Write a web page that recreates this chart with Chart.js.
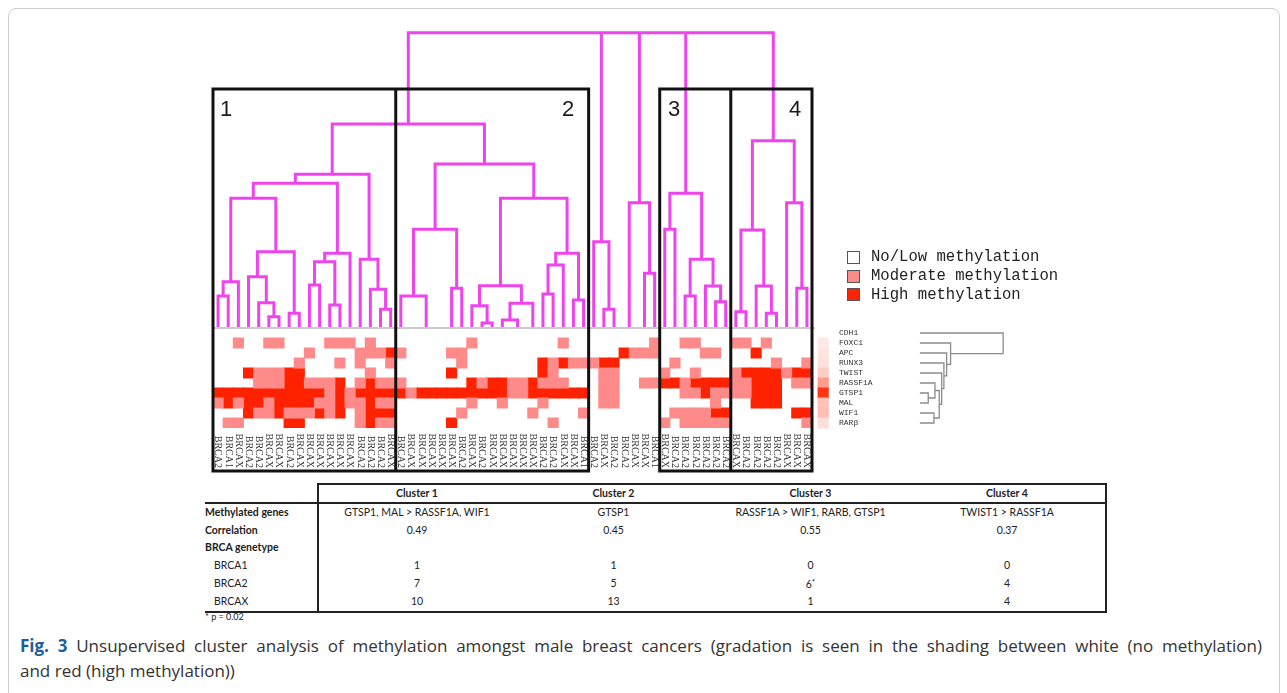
<!DOCTYPE html>
<html>
<head>
<meta charset="utf-8">
<title>Fig. 3</title>
<script src="https://cdn.jsdelivr.net/npm/chart.js@4.4.1/dist/chart.umd.min.js"></script>
<style>
  html, body { margin: 0; padding: 0; background: #fff; }
  body { width: 1287px; height: 693px; position: relative; overflow: hidden; font-family: 'Open Sans', sans-serif; }
  #frame { position: absolute; left: 8px; top: 8px; width: 1270px; height: 720px; border: 1px solid #cfcfcf; border-radius: 8px; }
  #chart { position: absolute; left: 0; top: 0; }
  .num { position: absolute; top: 98px; font: 22px 'Liberation Sans', Arial, sans-serif; line-height: 22px; color: #1a1a1a; }
  #legend { position: absolute; left: 847px; top: 248px; font: 15.6px 'Liberation Mono', monospace; color: #222; }
  #legend div { height: 18.8px; display: flex; align-items: center; white-space: nowrap; }
  #legend .sw { width: 11px; height: 11px; border: 1px solid #555; margin-right: 11px; flex: none; }
  #tbl { position: absolute; left: 205px; top: 483px; border-collapse: collapse; table-layout: fixed; width: 901px; font: 10.5px Lato, sans-serif; color: #222; }
  #tbl td, #tbl th { padding: 0; height: 17.5px; line-height: 17px; text-align: center; white-space: nowrap; }
  #tbl th { font-weight: bold; border-top: 2px solid #222; height: 16px; }
  #tbl th.lab { border-top: none; }
  #tbl thead tr { border-bottom: 2px solid #222; }
  #tbl tbody tr:last-child { border-bottom: 2px solid #222; }
  #tbl tr > :first-child { border-right: 2px solid #222; text-align: left; }
  #tbl tr > :last-child { border-right: 2px solid #222; }
  #tbl td.b { font-weight: bold; }
  #tbl td.sub { padding-left: 9px; }
  #tbl .star { font-size: 8px; vertical-align: 3px; }
  #note { position: absolute; left: 205px; top: 611px; font: 9px Lato, sans-serif; color: #222; }
  #cap { position: absolute; left: 20px; top: 633px; font-size: 17px; line-height: 25px; color: #333; white-space: nowrap; }
  #cap .l1 { width: 1242px; white-space: normal; text-align: justify; text-align-last: justify; }
  #cap b { color: #1d5f9c; }
</style>
</head>
<body>
<div id="frame"></div>
<canvas id="chart" width="1287" height="480"></canvas>
<div class="num" style="left:220px">1</div>
<div class="num" style="left:562px">2</div>
<div class="num" style="left:668px">3</div>
<div class="num" style="left:789px">4</div>
<div id="legend"></div>
<table id="tbl"></table>
<div id="note">* p = 0.02</div>
<div id="cap"><div class="l1"><b>Fig. 3</b> Unsupervised cluster analysis of methylation amongst male breast cancers (gradation is seen in the shading between white (no methylation)</div><div>and red (high methylation))</div></div>
<script>
// === Namunalar (ustunlar) ===
const colLabels = [
  'BRCA2','BRCA1','BRCAX','BRCA2','BRCA2','BRCAX','BRCAX','BRCA2','BRCAX','BRCAX','BRCAX','BRCAX','BRCAX','BRCAX','BRCA2','BRCA2','BRCA2','BRCAX',
  'BRCA2','BRCAX','BRCAX','BRCAX','BRCAX','BRCAX','BRCA2','BRCAX','BRCA2','BRCAX','BRCAX','BRCAX','BRCAX','BRCAX','BRCA2','BRCA2','BRCAX','BRCAX','BRCA1',
  'BRCA2','BRCAX','BRCA2','BRCA2','BRCAX','BRCAX','BRCA1',
  'BRCAX','BRCA2','BRCA2','BRCA2','BRCA2','BRCA2','BRCA2',
  'BRCAX','BRCA2','BRCA2','BRCA2','BRCA2','BRCAX','BRCAX','BRCAX'
];

// === Genlar (qatorlar) ===
const genes = ['CDH1', 'FOXC1', 'APC', 'RUNX3', 'TWIST', 'RASSF1A', 'GTSP1', 'MAL', 'WIF1', 'RARβ'];

// 0 = no/low, 1 = moderate, 2 = high  (cluster1 | cluster2 | loose | cluster3 | cluster4)
const cdh1    = '000000000000000000 0000000000000000000 0000000 0000000 00000000';
const foxc1   = '001001100001110100 0000000100000000100 0000001 0011000 11010000';
const apc     = '000000000100001112 1000011000000000000 0002111 0000110 00200000';
const runx3   = '000000001000101001 0000001000000021211 1220000 0100000 00001001';
const twist   = '000211122000000100 0000020000000021000 0110000 1001000 12222122';
const rassf1a = '000011122111201211 1000000212211211100 0110011 2212222 11222011';
const gtsp1   = '222222222221212222 2122222222211222222 0110000 0011211 11222000';
const mal     = '121221222211211211 0000000100100010000 0110000 0000010 00222000';
const wif1    = '000211211121201222 0000001000000100001 0000000 0111122 00000022';
const rarb    = '011000022000001211 0000020000000001000 0000000 1011111 00000001';

// o'rtacha metilatsiya (o'ng tomondagi ustun)
const geneMeans = [0.0, 0.1, 0.12, 0.14, 0.22, 0.45, 0.92, 0.28, 0.3, 0.15];

// === Dendrogramma: [chap, o'ng, balandlik] ===
const c1Left = [[[0, 1, 3.2], 2, 4.63], [[3, [4, [5, 6, 1.13], 2.53], 5.13], [7, 8, 1.47], 7.63], 12.97];
const c1Mid = [[[9, 10, 4.3], [11, 12, 2.3], 6.63], 13, 7.47];
const c1Right = [14, [15, [16, 17, 1.87], 3.87], 6.87];
const cluster1 = [[c1Left, c1Mid, 14.47], c1Right, 15.37];
const c2Left = [[18, [[19, 20, 0], [21, 22, 0], 0], 3.2], [23, 24, 3.97], 9.87];
const c2Right = [[[25, [26, 27, 0.5], 2.23], [[28, [29, 30, 0], 0.8], 31, 2.47], 4.23], [[[32, 33, 3.4], 34, 6.3], [35, 36, 2.8], 7.47], 12.97];
const cluster2 = [c2Left, c2Right, 16.4];
const loose1 = [37, [38, 39, 1.87], 8.63];
const loose2 = [[40, 41, 0], [42, 43, 5.47], 12.53];
const cluster3 = [[44, 45, 9.87], [[46, 47, 3.2], [48, [49, 50, 2.63], 4.2], 6.87], 13.47];
const cluster4 = [[[51, 52, 1.63], [53, [54, 55, 1.47], 4.2], 9.8], [56, [57, 58, 3.97], 12.53], 18.73];
const rootHeight = 29.53;
const topTree = [[[[[cluster1, cluster2, 20.4], loose1, rootHeight], loose2, rootHeight], cluster3, rootHeight], cluster4, rootHeight];

// genlar dendrogrammasi
const geneTree = [0, [1, [2, [3, [4, [[5, [6, 7, 0.82], 1.48], [8, 9, 1.38], 1.9], 2.14], 2.36], 2.63], 3.02], 8.2];

// klaster ramkalari (ustun oralig'i)
const clusterSpans = [[0, 18], [18, 37], [44, 51], [51, 59]];

// === Jadval ===
const clusterNames = ['Cluster 1', 'Cluster 2', 'Cluster 3', 'Cluster 4'];
const methylatedGenes = ['GTSP1, MAL > RASSF1A, WIF1', 'GTSP1', 'RASSF1A > WIF1, RARB, GTSP1', 'TWIST1 > RASSF1A'];
const correlations = [0.49, 0.45, 0.55, 0.37];
const brca1Counts = [1, 1, 0, 0];
const brca2Counts = [7, 5, 6, 4];
const brcaxCounts = [10, 13, 1, 4];
const brca2Significant = [false, false, true, false];

// === Legend ===
const levelNames = ['No/Low methylation', 'Moderate methylation', 'High methylation'];
const levelColors = ['#ffffff', '#ff8a8a', '#ff2200'];

const COLS = colLabels.length;
const Y_TOP = 29.6, Y_BOTTOM = -10;
const BOX_TOP = 23.9, BOX_BOTTOM = -14.3;
const STRIP_X = 60.1, GENE_BASE = 69.63;

const rows = [cdh1, foxc1, apc, runx3, twist, rassf1a, gtsp1, mal, wif1, rarb]
  .map(s => s.replace(/ /g, '').split('').map(Number));

function cells(level) {
  const out = [];
  rows.forEach((row, r) => row.forEach((v, c) => {
    if (v === level) out.push({ x: c + 0.5, y: [-(r + 1), -r] });
  }));
  return out;
}

// nol balandlikdagi birlashmalar chizilmaydi (asosiy chiziq ostida qoladi)
function addTopLinks(node, pts) {
  if (typeof node === 'number') return { x: node + 0.5, h: 0 };
  const a = addTopLinks(node[0], pts), b = addTopLinks(node[1], pts), h = node[2];
  if (h > 0) pts.push({ x: a.x, y: a.h }, { x: a.x, y: h }, { x: b.x, y: h }, { x: b.x, y: b.h }, { x: null, y: null });
  return { x: (a.x + b.x) / 2, h };
}

function addGeneLinks(node, pts) {
  if (typeof node === 'number') return { y: -(node + 0.5), h: 0 };
  const a = addGeneLinks(node[0], pts), b = addGeneLinks(node[1], pts), h = node[2];
  pts.push({ x: GENE_BASE + a.h, y: a.y }, { x: GENE_BASE + h, y: a.y }, { x: GENE_BASE + h, y: b.y }, { x: GENE_BASE + b.h, y: b.y }, { x: null, y: null });
  return { y: (a.y + b.y) / 2, h };
}

const dendroPts = [];
addTopLinks(topTree, dendroPts);
const genePts = [];
addGeneLinks(geneTree, genePts);

const boxPts = [];
clusterSpans.forEach(([s, e]) => {
  boxPts.push({ x: s, y: BOX_BOTTOM }, { x: s, y: BOX_TOP }, { x: e, y: BOX_TOP }, { x: e, y: BOX_BOTTOM }, { x: s, y: BOX_BOTTOM }, { x: null, y: null });
});

function meanColor(t) {
  const g = Math.round(255 - 221 * t), b = Math.round(255 - 255 * t);
  return `rgb(255,${g},${b})`;
}

Chart.defaults.animation = false;
Chart.defaults.font.family = "'Liberation Mono', monospace";

const barOpts = { type: 'bar', grouped: false, barPercentage: 1, categoryPercentage: 1, borderWidth: 0, inflateAmount: 0.5, order: 3 };

new Chart(document.getElementById('chart'), {
  type: 'bar',
  data: {
    datasets: [
      { type: 'line', data: boxPts, borderColor: '#111', borderWidth: 3, pointRadius: 0, clip: false,
        borderJoinStyle: 'miter', borderCapStyle: 'square', order: 0 },
      { type: 'line', data: [{ x: -0.1, y: 0 }, { x: COLS + 0.3, y: 0 }], borderColor: '#cacaca', borderWidth: 2, pointRadius: 0, clip: false, order: 1 },
      { type: 'line', data: dendroPts, borderColor: '#ee44ee', borderWidth: 3, pointRadius: 0, clip: false, order: 2 },
      { type: 'line', data: genePts, borderColor: '#8c8c8c', borderWidth: 1.3, pointRadius: 0, clip: false, order: 2 },
      { ...barOpts, label: levelNames[1], data: cells(1), backgroundColor: levelColors[1] },
      { ...barOpts, label: levelNames[2], data: cells(2), backgroundColor: levelColors[2] },
      { ...barOpts, label: 'mean', data: geneMeans.map((m, r) => ({ x: STRIP_X, y: [-(r + 1), -r] })),
        backgroundColor: geneMeans.map(meanColor), clip: false }
    ]
  },
  options: {
    responsive: false,
    devicePixelRatio: 1,
    events: [],
    layout: { padding: { left: 213, right: 275, top: 32, bottom: 7 } },
    plugins: { legend: { display: false }, tooltip: { enabled: false } },
    scales: {
      x: {
        type: 'linear', min: 0, max: COLS, offset: false,
        grid: { display: false, drawTicks: false }, border: { display: false },
        afterBuildTicks: a => { a.ticks = colLabels.map((_, i) => ({ value: i + 0.5 })); },
        afterFit: a => { a.height = 45; },
        ticks: { autoSkip: false, minRotation: -90, maxRotation: -90, padding: 40, color: '#333',
                 font: { family: "'Liberation Serif', serif", size: 10 }, callback: (v, i) => colLabels[i] }
      },
      y: { type: 'linear', min: Y_BOTTOM, max: Y_TOP, display: false },
      yg: {
        type: 'linear', position: 'right', min: Y_BOTTOM, max: Y_TOP,
        grid: { display: false, drawTicks: false }, border: { display: false },
        afterBuildTicks: a => { a.ticks = genes.map((_, i) => ({ value: -i - 0.5 })); },
        afterFit: a => { a.width = 200; },
        ticks: { autoSkip: false, padding: 27, color: '#333', font: { size: 8 }, callback: (v, i) => genes[i] }
      }
    }
  }
});

// === Legend ===
document.getElementById('legend').innerHTML = levelNames
  .map((n, i) => `<div><span class="sw" style="background:${levelColors[i]}"></span>${n}</div>`).join('');

// === Jadval ===
const row = (label, cls, vals) => `<tr><td class="${cls}">${label}</td>` + vals.map(v => `<td>${v}</td>`).join('') + '</tr>';
document.getElementById('tbl').innerHTML =
  '<colgroup><col style="width:113px">' + '<col style="width:197px">'.repeat(4) + '</colgroup>' +
  '<thead><tr><th class="lab"></th>' + clusterNames.map(n => `<th>${n}</th>`).join('') + '</tr></thead><tbody>' +
  row('Methylated genes', 'b', methylatedGenes) +
  row('Correlation', 'b', correlations.map(v => v.toFixed(2))) +
  row('BRCA genetype', 'b', ['', '', '', '']) +
  row('BRCA1', 'sub', brca1Counts) +
  row('BRCA2', 'sub', brca2Counts.map((v, i) => brca2Significant[i] ? v + '<span class="star">*</span>' : v)) +
  row('BRCAX', 'sub', brcaxCounts) + '</tbody>';
</script>
</body>
</html>
